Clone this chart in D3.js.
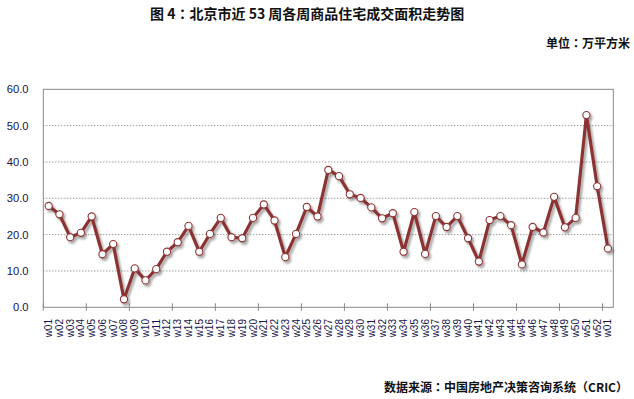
<!DOCTYPE html>
<html><head><meta charset="utf-8">
<script src="https://cdn.jsdelivr.net/npm/d3@7"></script>
<style>body{margin:0;background:#fff}svg{display:block}</style>
</head><body>
<svg id="c" width="634" height="399"></svg>
<script>
const weeks = ["w01","w02","w03","w04","w05","w06","w07","w08","w09","w10","w11","w12","w13","w14","w15","w16","w17","w18","w19","w20","w21","w22","w23","w24","w25","w26","w27","w28","w29","w30","w31","w32","w33","w34","w35","w36","w37","w38","w39","w40","w41","w42","w43","w44","w45","w46","w47","w48","w49","w50","w51","w52","w01"];
const areaValues = [27.9,25.6,19.3,20.5,25.0,14.6,17.4,2.2,10.7,7.4,10.5,15.3,17.9,22.4,15.3,20.2,24.6,19.3,19.0,24.6,28.3,23.9,13.8,20.2,27.6,25.0,37.8,36.1,31.1,30.1,27.5,24.5,25.9,15.3,26.2,14.7,25.1,22.1,25.1,19.0,12.6,24.0,25.1,22.6,11.8,22.1,20.6,30.4,22.0,24.6,52.9,33.3,16.2];
const yTicks = [0,10,20,30,40,50,60];
const titleText = "图 4：北京市近 53 周各周商品住宅成交面积走势图";
const unitText = "单位：万平方米";
const sourceText = "数据来源：中国房地产决策咨询系统（CRIC）";

const svg = d3.select("#c");
const L = 43.3, R = 613.3, T = 89.3, B = 307.3;
const idx = d3.range(weeks.length);
const x = d3.scaleBand().domain(idx).range([L, R]).padding(0);
const y = d3.scaleLinear().domain([0, 60]).range([B, T]);
const lineColor = "#8b3333";
const cjk = "'Noto Sans CJK SC','Noto Sans',sans-serif";
const cjkTC = "'Noto Sans CJK TC','Noto Sans CJK SC',sans-serif";

const defs = svg.append("defs");
const f = defs.append("filter").attr("id","sh").attr("x","-10%").attr("y","-10%").attr("width","130%").attr("height","130%");
f.append("feDropShadow").attr("dx",2).attr("dy",2.5).attr("stdDeviation",1.3).attr("flood-color","#000").attr("flood-opacity",0.35);

// gridlines
svg.append("g").selectAll("line").data(yTicks.filter(d => d > 0 && d < 60)).join("line")
  .attr("x1", L).attr("x2", R).attr("y1", d => y(d)).attr("y2", d => y(d))
  .attr("stroke", "#707070").attr("stroke-width", 1).attr("stroke-dasharray", "1,2");

// plot border
svg.append("rect").attr("x", L).attr("y", T).attr("width", R - L).attr("height", B - T)
  .attr("fill", "none").attr("stroke", "#888").attr("stroke-width", 1);

// y labels
svg.append("g").selectAll("text").data(yTicks).join("text")
  .attr("x", 28.5).attr("y", d => y(d)).attr("dy", "0.35em")
  .attr("text-anchor", "end").attr("font-family", "'Liberation Sans',Arial,sans-serif")
  .attr("font-size", 11.2).attr("fill", "#14144a").text(d => d.toFixed(1));

// x ticks at every 4th category boundary
const bounds = d3.range(0, weeks.length, 4);
svg.append("g").selectAll("line").data(bounds).join("line")
  .attr("x1", d => x(d)).attr("x2", d => x(d)).attr("y1", B - 4).attr("y2", B + 3.5)
  .attr("stroke", "#888").attr("stroke-width", 1);

// x labels
svg.append("g").selectAll("text").data(idx).join("text")
  .attr("transform", d => `translate(${x(d) + x.bandwidth()/2 + 3.5},319) rotate(-90)`)
  .attr("text-anchor", "end").attr("font-family", "'Liberation Sans',Arial,sans-serif")
  .attr("font-size", 10).attr("fill", "#14144a").text(d => weeks[d]);

// line
const line = d3.line().x(d => x(d) + x.bandwidth()/2).y(d => y(areaValues[d]));
const g = svg.append("g").attr("filter", "url(#sh)");
g.append("path").datum(idx).attr("d", line).attr("fill", "none")
  .attr("stroke", lineColor).attr("stroke-width", 3.2).attr("stroke-linejoin", "round");
g.selectAll("circle").data(idx).join("circle")
  .attr("cx", d => x(d) + x.bandwidth()/2).attr("cy", d => y(areaValues[d])).attr("r", 3.6)
  .attr("fill", "#fff").attr("stroke", lineColor).attr("stroke-width", 1.1);

// texts: full-width punctuation drawn centred (TC glyphs)
function cjkText(sel, str) {
  const parts = str.split(/([：（）])/).filter(s => s.length);
  sel.selectAll("tspan").data(parts).join("tspan")
    .attr("font-family", d => /[：（）]/.test(d) ? cjkTC : cjk).text(d => d);
  return sel;
}
cjkText(svg.append("text").attr("x", 150).attr("y", 14).attr("dy", "0.35em")
  .attr("font-weight", "bold").attr("font-size", 14).attr("fill", "#111"), titleText);
cjkText(svg.append("text").attr("x", 630).attr("y", 44).attr("dy", "0.35em").attr("text-anchor", "end")
  .attr("font-weight", "bold").attr("font-size", 12).attr("fill", "#111"), unitText);
cjkText(svg.append("text").attr("x", 628).attr("y", 388).attr("dy", "0.35em").attr("text-anchor", "end")
  .attr("font-weight", "bold").attr("font-size", 12).attr("fill", "#111"), sourceText);
</script>
</body></html>
